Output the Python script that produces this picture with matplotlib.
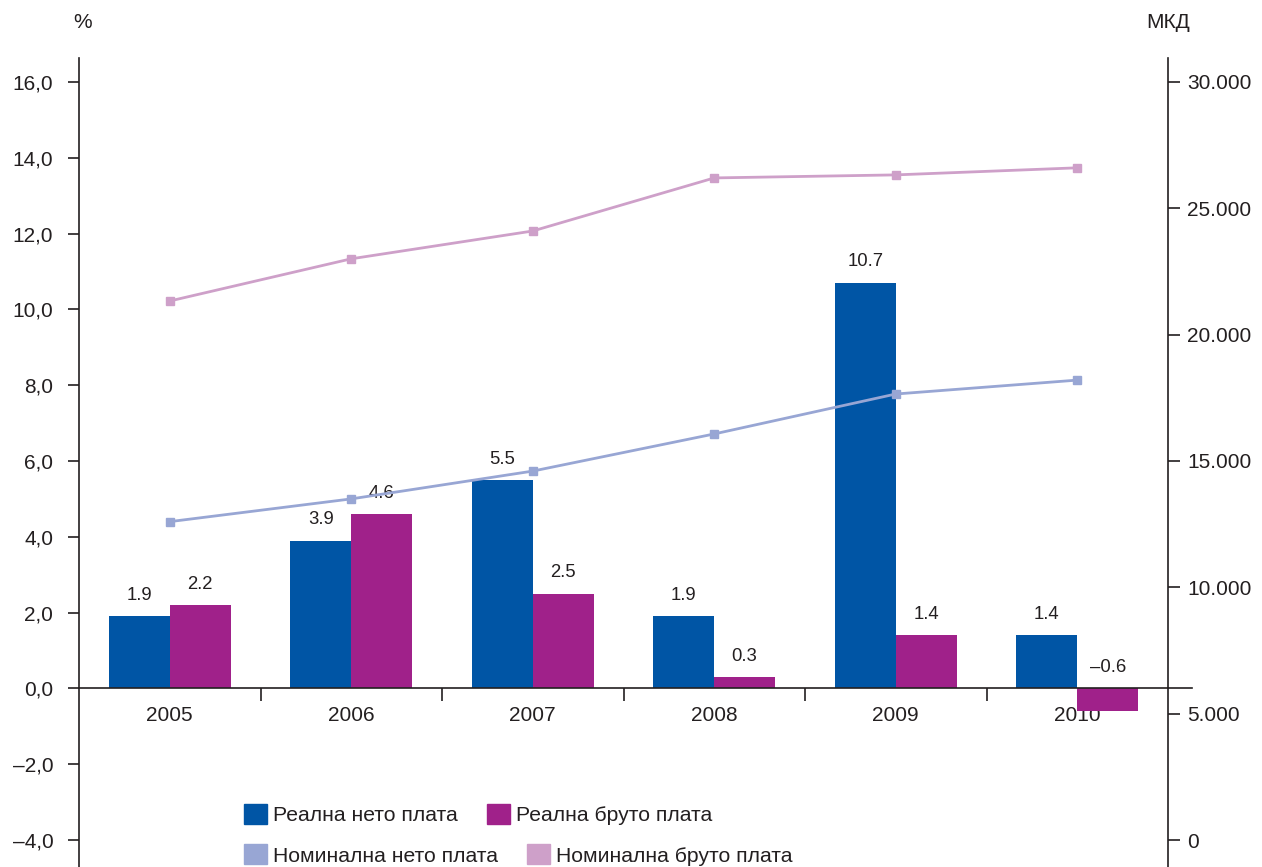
import matplotlib.pyplot as plt
from matplotlib.patches import Patch
from matplotlib.ticker import FuncFormatter, FixedLocator
import numpy as np

plt.rcParams['font.family'] = ['Liberation Sans', 'DejaVu Sans']

years = ['2005', '2006', '2007', '2008', '2009', '2010']
real_net = [1.9, 3.9, 5.5, 1.9, 10.7, 1.4]        # %
real_gross = [2.2, 4.6, 2.5, 0.3, 1.4, -0.6]      # %
nominal_net = [12600, 13500, 14600, 16070, 17650, 18200]     # МКД
nominal_gross = [21330, 23000, 24100, 26200, 26320, 26600]   # МКД

c_net = '#0055a5'
c_gross = '#a0218a'
c_nom_net = '#98a6d4'
c_nom_gross = '#cea0c9'
txt = '#231f20'

fig = plt.figure(figsize=(12.62, 8.67), dpi=100)
ax = fig.add_axes([79 / 1262, 0.0, (1168 - 79) / 1262, 1 - 58 / 867])
ax2 = ax.twinx()

x = np.arange(len(years))
w = 0.335
ax.bar(x - w / 2, real_net, w, color=c_net, zorder=2)
ax.bar(x + w / 2, real_gross, w, color=c_gross, zorder=2)

for xi, v in zip(x - w / 2, real_net):
    ax.text(xi, max(v, 0) + 0.55, f'{v:.1f}'.replace('-', '–'),
            ha='center', va='center', fontsize=13.3, color=txt)
for xi, v in zip(x + w / 2, real_gross):
    ax.text(xi, max(v, 0) + 0.55, f'{v:.1f}'.replace('-', '–'),
            ha='center', va='center', fontsize=13.3, color=txt)

ax2.plot(x, nominal_net, '-s', color=c_nom_net, lw=2.0, ms=5.3, zorder=3)
ax2.plot(x, nominal_gross, '-s', color=c_nom_gross, lw=2.0, ms=5.3, zorder=3)

# left axis (%), right axis (МКД) share the same vertical scale
lo, hi = -4.71, 16.63
ax.set_ylim(lo, hi)
ax2.set_ylim((lo + 4) * 1500, (hi + 4) * 1500)
ax.set_xlim(-0.5, 5.5)

ax.set_yticks(np.arange(-4, 16.1, 2))
ax.yaxis.set_major_formatter(FuncFormatter(
    lambda v, p: f'{v:.1f}'.replace('.', ',').replace('-', '–')))
ax2.set_yticks(np.arange(0, 30001, 5000))
ax2.yaxis.set_major_formatter(FuncFormatter(
    lambda v, p: f'{int(v):,}'.replace(',', '.')))

for s in ['top', 'right']:
    ax.spines[s].set_visible(False)
for s in ['top', 'left', 'bottom']:
    ax2.spines[s].set_visible(False)
ax.spines['bottom'].set_position(('data', 0))
for sp in [ax.spines['left'], ax.spines['bottom'], ax2.spines['right']]:
    sp.set_color(txt)
    sp.set_linewidth(1.2)

# zero line runs a little past the right axis
ax.plot([5.5, 5.5 + 24 / 181.5], [0, 0], color=txt, lw=1.2, clip_on=False)

ax.set_xticks(x)
ax.set_xticklabels(years)
ax.xaxis.set_minor_locator(FixedLocator(np.arange(0.5, 5, 1)))
ax.tick_params(axis='x', which='major', length=0, pad=12.5, labelsize=15, labelcolor=txt)
ax.tick_params(axis='x', which='minor', length=9, width=1.2, color=txt, direction='out')
ax.tick_params(axis='y', length=8, width=1.2, color=txt, pad=10.5,
               labelsize=15, labelcolor=txt)
ax2.tick_params(axis='y', length=8.6, width=1.2, color=txt, pad=5,
                labelsize=15, labelcolor=txt)

fig.text(83 / 1262, 1 - 23 / 867, '%', ha='center', va='center', fontsize=15, color=txt)
fig.text(1168 / 1262, 1 - 23 / 867, 'МКД', ha='center', va='center', fontsize=15, color=txt)

# two legend rows, each laid out independently
leg_kw = dict(ncol=2, frameon=False, fontsize=15.2, loc='center left',
              bbox_transform=fig.transFigure, borderpad=0, borderaxespad=0,
              handlelength=1.08, handleheight=1.08, handletextpad=0.28,
              columnspacing=1.4, labelcolor=txt)
row1 = fig.legend([Patch(color=c_net), Patch(color=c_gross)],
                  ['Реална нето плата', 'Реална бруто плата'],
                  bbox_to_anchor=(244 / 1262, 1 - 814.5 / 867), **leg_kw)
row2 = fig.legend([Patch(color=c_nom_net), Patch(color=c_nom_gross)],
                  ['Номинална нето плата', 'Номинална бруто плата'],
                  bbox_to_anchor=(244 / 1262, 1 - 855 / 867), **leg_kw)

fig.savefig('out.png', dpi=100)
